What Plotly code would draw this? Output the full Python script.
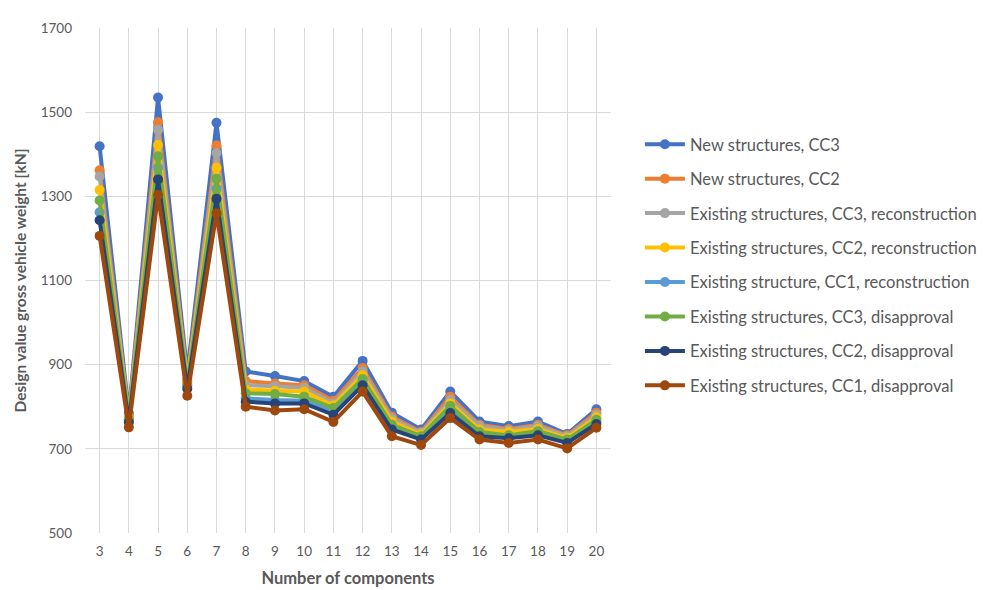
import plotly.graph_objects as go

components = [3, 4, 5, 6, 7, 8, 9, 10, 11, 12, 13, 14, 15, 16, 17, 18, 19, 20]

new_cc3 = [1419, 785, 1535, 880, 1475, 884, 873, 861, 824, 909, 786, 746, 836, 765, 754, 765, 735, 794]
new_cc2 = [1362, 778, 1476, 866, 1421, 861, 855, 851, 814, 892, 777, 740, 824, 757, 747, 757, 732, 786]
ex_cc3_rec = [1347, 776, 1458, 862, 1403, 851, 849, 845, 808, 884, 772, 738, 816, 754, 744, 754, 730, 781]
ex_cc2_rec = [1315, 773, 1422, 858, 1368, 841, 838, 836, 803, 875, 765, 734, 808, 746, 740, 747, 726, 775]
ex_cc1_rec = [1262, 768, 1368, 850, 1318, 820, 816, 814, 790, 861, 753, 728, 797, 736, 730, 738, 720, 765]
ex_cc3_dis = [1290, 770, 1395, 853, 1342, 832, 830, 824, 797, 866, 757, 730, 802, 740, 732, 742, 722, 769]
ex_cc2_dis = [1243, 763, 1340, 843, 1294, 812, 808, 808, 781, 851, 746, 722, 785, 730, 725, 732, 714, 759]
ex_cc1_dis = [1206, 751, 1303, 826, 1260, 800, 791, 794, 764, 836, 730, 709, 773, 722, 714, 722, 701, 750]

series_names = [
    "New structures, CC3",
    "New structures, CC2",
    "Existing structures, CC3, reconstruction",
    "Existing structures, CC2, reconstruction",
    "Existing structure, CC1, reconstruction",
    "Existing structures, CC3, disapproval",
    "Existing structures, CC2, disapproval",
    "Existing structures, CC1, disapproval",
]
series_values = [new_cc3, new_cc2, ex_cc3_rec, ex_cc2_rec, ex_cc1_rec, ex_cc3_dis, ex_cc2_dis, ex_cc1_dis]
colors = ["#4472C4", "#ED7D31", "#A5A5A5", "#FFC000", "#5B9BD5", "#70AD47", "#264478", "#9E480E"]

y_ticks = [500, 700, 900, 1100, 1300, 1500, 1700]

fig = go.Figure()
for i, (name, vals, col) in enumerate(zip(series_names, series_values, colors)):
    fig.add_trace(go.Scatter(
        x=components, y=vals, name=name, mode="lines+markers",
        line=dict(color=col, width=4),
        marker=dict(color=col, size=10),
        legendgroup=f"g{i}",
    ))

font_family = "Lato, Open Sans, sans-serif"
fig.update_layout(
    width=988, height=590,
    margin=dict(l=74, r=385, t=14, b=65),
    paper_bgcolor="white", plot_bgcolor="white",
    font=dict(family=font_family, color="#595959", size=13.5),
    showlegend=True,
    legend=dict(
        x=1.055, xanchor="left", y=0.804, yanchor="top",
        font=dict(size=16.5, color="#595959"),
        tracegroupgap=10, itemwidth=40,
        bgcolor="rgba(0,0,0,0)",
    ),
    xaxis=dict(
        range=[2.5, 20.5], tickmode="array", tickvals=components,
        ticktext=[str(c) for c in components],
        showgrid=True, gridcolor="#D9D9D9", gridwidth=1,
        zeroline=False, showline=False, ticks="",
        ticklabelstandoff=8,
        title=dict(text="<b>Number of components</b>", font=dict(size=16.5, color="#595959"), standoff=14),
        tickfont=dict(size=13.5, color="#595959"),
    ),
    yaxis=dict(
        range=[500, 1700], tickmode="array", tickvals=y_ticks,
        showgrid=True, gridcolor="#D9D9D9", gridwidth=1,
        zeroline=False, showline=False, ticks="",
        ticklabelstandoff=12,
        title=dict(text="<b>Design value gross vehicle weight [kN]</b>", font=dict(size=15.5, color="#595959"), standoff=10),
        tickfont=dict(size=13.5, color="#595959"),
    ),
)

fig.write_html("out.html")
